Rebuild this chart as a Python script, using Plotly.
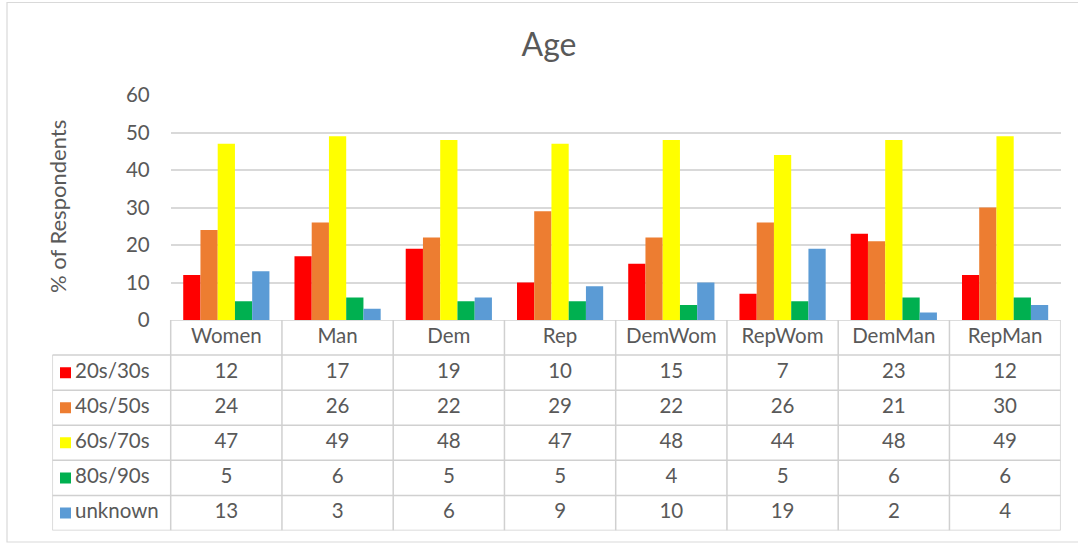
import plotly.graph_objects as go

# ---------------- data ----------------
categories = ["Women", "Man", "Dem", "Rep", "DemWom", "RepWom", "DemMan", "RepMan"]
series_names = ["20s/30s", "40s/50s", "60s/70s", "80s/90s", "unknown"]
s_20_30 = [12, 17, 19, 10, 15, 7, 23, 12]
s_40_50 = [24, 26, 22, 29, 22, 26, 21, 30]
s_60_70 = [47, 49, 48, 47, 48, 44, 48, 49]
s_80_90 = [5, 6, 5, 5, 4, 5, 6, 6]
s_unknown = [13, 3, 6, 9, 10, 19, 2, 4]
series_values = [s_20_30, s_40_50, s_60_70, s_80_90, s_unknown]
colors = ["#FF0000", "#ED7D31", "#FFFF00", "#00B050", "#5B9BD5"]
y_ticks = [0, 10, 20, 30, 40, 50, 60]

# ---------------- layout geometry (pixels) ----------------
W, H = 1078, 544
plot_left, plot_right = 170.7, 1060.7
legend_left = 52.3
plot_top, plot_bottom = 95, 320
table_bottom = 530.5
cat_w = (plot_right - plot_left) / len(categories)

def py(p):
    return 1 - p / H

x2_left = -0.5 - (plot_left - legend_left) / cat_w
def px_to_x2(p):
    return -0.5 + (p - plot_left) / cat_w

FONT = "Lato"
TXT = "#595959"
GRID = "#D9D9D9"
TLINE = "#D0D0D0"
FS = 20.5

fig = go.Figure()

for name, vals, col in zip(series_names, series_values, colors):
    fig.add_trace(go.Bar(x=categories, y=vals, name=name, marker=dict(color=col, line=dict(width=0)),
                         xaxis="x", yaxis="y", showlegend=False, hoverinfo="x+y+name"))

n_rows = len(series_names) + 1
idx = list(range(len(categories)))

# header row
fig.add_trace(go.Scatter(x=idx, y=[0.5] * len(categories), text=categories, mode="text",
                         textfont=dict(family=FONT, size=FS, color=TXT),
                         xaxis="x2", yaxis="y2", showlegend=False, hoverinfo="skip"))
# value rows + legend keys
for r, (name, vals, col) in enumerate(zip(series_names, series_values, colors)):
    yc = r + 1.5
    fig.add_trace(go.Scatter(x=idx, y=[yc] * len(vals), text=[str(v) for v in vals], mode="text",
                             textfont=dict(family=FONT, size=FS, color=TXT),
                             xaxis="x2", yaxis="y2", showlegend=False, hoverinfo="skip"))
    fig.add_trace(go.Scatter(x=[px_to_x2(65.5)], y=[yc], mode="markers",
                             marker=dict(symbol="square", size=11, color=col, line=dict(width=0)),
                             xaxis="x2", yaxis="y2", showlegend=False, hoverinfo="skip"))
    fig.add_trace(go.Scatter(x=[px_to_x2(75)], y=[yc], text=[name], mode="text", textposition="middle right",
                             textfont=dict(family=FONT, size=FS, color=TXT),
                             xaxis="x2", yaxis="y2", showlegend=False, hoverinfo="skip"))

shapes = []
# horizontal table lines
shapes.append(dict(type="line", xref="x2", yref="y2", x0=-0.5, x1=len(categories) - 0.5, y0=0, y1=0,
                   line=dict(color=TLINE, width=1.5)))
for r in range(1, n_rows + 1):
    shapes.append(dict(type="line", xref="x2", yref="y2", x0=x2_left, x1=len(categories) - 0.5, y0=r, y1=r,
                       line=dict(color=TLINE, width=1.5)))
# vertical table lines
for c in range(len(categories) + 1):
    shapes.append(dict(type="line", xref="x2", yref="y2", x0=c - 0.5, x1=c - 0.5, y0=0, y1=n_rows,
                       line=dict(color=TLINE, width=1.5)))
shapes.append(dict(type="line", xref="x2", yref="y2", x0=x2_left, x1=x2_left, y0=1, y1=n_rows,
                   line=dict(color=TLINE, width=1.5)))
# outer chart border
shapes.append(dict(type="rect", xref="paper", yref="paper", x0=7 / W, x1=1.01, y0=py(542), y1=py(2.5),
                   line=dict(color=GRID, width=1.2), fillcolor="rgba(0,0,0,0)"))

annotations = [dict(text="% of Respondents", xref="paper", yref="paper", x=57 / W, y=py(207),
                    xanchor="center", yanchor="middle", textangle=-90, showarrow=False,
                    font=dict(family=FONT, size=22, color=TXT))]

fig.update_layout(
    width=W, height=H,
    margin=dict(l=0, r=0, t=0, b=0, pad=0, autoexpand=False),
    paper_bgcolor="white", plot_bgcolor="white",
    showlegend=False,
    barmode="group", bargap=0.225, bargroupgap=0,
    font=dict(family=FONT, color=TXT),
    title=dict(text="Age", x=549 / W, xanchor="center", y=py(45), yanchor="middle",
               font=dict(family=FONT, size=32, color=TXT)),
    xaxis=dict(domain=[plot_left / W, plot_right / W], range=[-0.5, len(categories) - 0.5],
               showticklabels=False, showgrid=False, zeroline=False, showline=False, ticks="",
               anchor="y", fixedrange=True, automargin=False),
    yaxis=dict(domain=[py(plot_bottom), py(plot_top)], range=[0, 60], tickvals=y_ticks,
               showgrid=True, gridcolor=GRID, gridwidth=1.5, zeroline=False, showline=False,
               ticks="", ticklabelstandoff=20, tickfont=dict(family=FONT, size=FS, color=TXT),
               anchor="x", fixedrange=True, automargin=False),
    xaxis2=dict(domain=[legend_left / W, plot_right / W], range=[x2_left, len(categories) - 0.5],
                visible=False, anchor="y2", fixedrange=True, automargin=False),
    yaxis2=dict(domain=[py(table_bottom), py(plot_bottom)], range=[n_rows, 0],
                visible=False, anchor="x2", fixedrange=True, automargin=False),
    shapes=shapes,
    annotations=annotations,
)

fig.write_html("out.html")
